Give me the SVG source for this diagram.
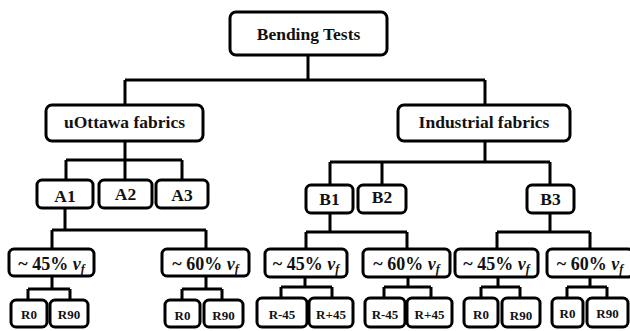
<svg xmlns="http://www.w3.org/2000/svg" width="630" height="331" viewBox="0 0 630 331">
<style>
  .box { fill: #fff; stroke: #000; stroke-width: 3; }
  .lbl { font-family: "Liberation Serif", "Times New Roman", serif; font-weight: bold; font-size: 17.5px; text-anchor: middle; fill: #111; }
  .vf { font-family: "Liberation Serif", "Times New Roman", serif; font-weight: bold; font-size: 18px; text-anchor: middle; fill: #111; }
  .leaf { font-family: "Liberation Serif", "Times New Roman", serif; font-weight: bold; font-size: 13px; text-anchor: middle; fill: #111; }
  .it { font-style: italic; }
  .sub { font-style: italic; font-size: 12px; }
  .conn { fill: none; stroke: #000; stroke-width: 3; }
</style>
<rect width="630" height="331" fill="#fff"/>
<g id="connectors" class="conn">
  <path d="M308 55V80M125 80H485M125 80V105M485 80V105"/>
  <path d="M125 141V160M66 160H182M66 160V180M125 160V180M182 160V180"/>
  <path d="M485 141V162M330 162H550M330 162V185M382 162V185M550 162V185"/>
  <path d="M65 208V230M52 230H206M52 230V249M206 230V249"/>
  <path d="M52 276V289M28 289H70M28 289V300M70 289V300"/>
  <path d="M206 276V289M182 289H222M182 289V300M222 289V300"/>
  <path d="M330 213V232M306 232H407M306 232V249M407 232V249"/>
  <path d="M305 277V287M281 287H332M281 287V298M332 287V298"/>
  <path d="M408 277V287M384 287H431M384 287V298M431 287V298"/>
  <path d="M550 213V232M497 232H590M497 232V249M590 232V249"/>
  <path d="M498 277V287M481 287H520M481 287V298M520 287V298"/>
  <path d="M590 277V287M567 287H607M567 287V298M607 287V298"/>
</g>
<g id="root"><rect class="box" x="230" y="12" width="157" height="43" rx="6"/><text class="lbl" x="308.5" y="40">Bending Tests</text></g>
<g id="uottawa"><rect class="box" x="46" y="105" width="157" height="36" rx="6"/><text class="lbl" x="124.5" y="128">uOttawa fabrics</text></g>
<g id="industrial"><rect class="box" x="398" y="105" width="172" height="36" rx="6"/><text class="lbl" x="484" y="128">Industrial fabrics</text></g>
<g id="A1"><rect class="box" x="37" y="180" width="56" height="28" rx="5"/><text class="lbl" x="65" y="202">A1</text></g>
<g id="A2"><rect class="box" x="99" y="180" width="53" height="28" rx="5"/><text class="lbl" x="125.5" y="200">A2</text></g>
<g id="A3"><rect class="box" x="156" y="180" width="52" height="28" rx="5"/><text class="lbl" x="182" y="201">A3</text></g>
<g id="B1"><rect class="box" x="306" y="185" width="47" height="28" rx="5"/><text class="lbl" x="329.5" y="205">B1</text></g>
<g id="B2"><rect class="box" x="358" y="185" width="48" height="28" rx="5"/><text class="lbl" x="382" y="203">B2</text></g>
<g id="B3"><rect class="box" x="527" y="185" width="47" height="28" rx="5"/><text class="lbl" x="550.5" y="205">B3</text></g>
<g id="A1-45"><rect class="box" x="9" y="249" width="85" height="27" rx="5"/><text class="vf" x="51.5" y="270">~ 45% <tspan class="it">v</tspan><tspan class="sub" dy="3">f</tspan></text></g>
<g id="A1-60"><rect class="box" x="162" y="249" width="87" height="27" rx="5"/><text class="vf" x="205.5" y="270">~ 60% <tspan class="it">v</tspan><tspan class="sub" dy="3">f</tspan></text></g>
<g id="B1-45"><rect class="box" x="265" y="249" width="82" height="28" rx="5"/><text class="vf" x="306" y="270">~ 45% <tspan class="it">v</tspan><tspan class="sub" dy="3">f</tspan></text></g>
<g id="B1-60"><rect class="box" x="363" y="249" width="87" height="28" rx="5"/><text class="vf" x="406.5" y="270">~ 60% <tspan class="it">v</tspan><tspan class="sub" dy="3">f</tspan></text></g>
<g id="B3-45"><rect class="box" x="455" y="249" width="83" height="28" rx="5"/><text class="vf" x="496.5" y="270">~ 45% <tspan class="it">v</tspan><tspan class="sub" dy="3">f</tspan></text></g>
<g id="B3-60"><rect class="box" x="547" y="249" width="86" height="28" rx="5"/><text class="vf" x="590" y="270">~ 60% <tspan class="it">v</tspan><tspan class="sub" dy="3">f</tspan></text></g>
<g id="A45-R0"><rect class="box" x="11" y="300" width="36" height="27" rx="5"/><text class="leaf" x="29" y="319">R0</text></g>
<g id="A45-R90"><rect class="box" x="50" y="300" width="38" height="27" rx="5"/><text class="leaf" x="69" y="319">R90</text></g>
<g id="A60-R0"><rect class="box" x="165" y="300" width="35" height="27" rx="5"/><text class="leaf" x="182.5" y="320">R0</text></g>
<g id="A60-R90"><rect class="box" x="204" y="300" width="39" height="27" rx="5"/><text class="leaf" x="223.5" y="320">R90</text></g>
<g id="B145-Rm45"><rect class="box" x="257" y="298" width="50" height="29" rx="5"/><text class="leaf" x="282" y="319">R-45</text></g>
<g id="B145-Rp45"><rect class="box" x="309" y="298" width="44" height="29" rx="5"/><text class="leaf" x="331" y="319">R+45</text></g>
<g id="B160-Rm45"><rect class="box" x="365" y="298" width="40" height="29" rx="5"/><text class="leaf" x="385" y="319">R-45</text></g>
<g id="B160-Rp45"><rect class="box" x="407" y="298" width="45" height="29" rx="5"/><text class="leaf" x="429.5" y="319">R+45</text></g>
<g id="B345-R0"><rect class="box" x="464" y="298" width="34" height="29" rx="5"/><text class="leaf" x="481" y="319">R0</text></g>
<g id="B345-R90"><rect class="box" x="502" y="298" width="38" height="29" rx="5"/><text class="leaf" x="521" y="320">R90</text></g>
<g id="B360-R0"><rect class="box" x="552" y="298" width="31" height="29" rx="5"/><text class="leaf" x="567.5" y="318">R0</text></g>
<g id="B360-R90"><rect class="box" x="587" y="298" width="41" height="29" rx="5"/><text class="leaf" x="607.5" y="318">R90</text></g>
</svg>
